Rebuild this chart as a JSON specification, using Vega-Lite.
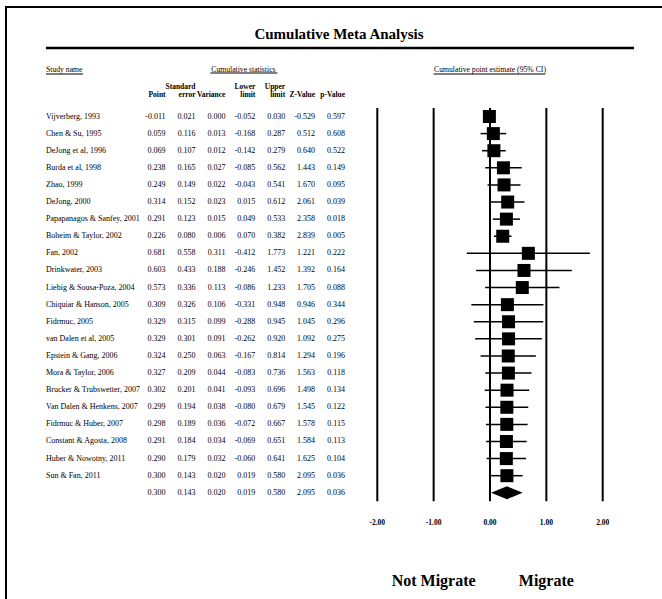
{
  "$schema": "https://vega.github.io/schema/vega-lite/v6.json",
  "width": 666,
  "height": 620,
  "autosize": {"type": "none"},
  "padding": {"left": 6, "top": 7, "right": 0, "bottom": 0},
  "background": "white",
  "config": {
    "view": {"stroke": "black", "strokeWidth": 2},
    "font": "Liberation Serif",
    "text": {"font": "Liberation Serif", "color": "black"},
    "locale": {"number": {"decimal": ".", "thousands": ",", "grouping": [3], "currency": ["$", ""], "minus": "-"}}
  },
  "datasets": {
    "rows": [
      {"row": 1, "kind": "study", "study": "Vijverberg, 1993", "point": -0.011, "se": 0.021, "variance": 0.000, "lower": -0.052, "upper": 0.030, "z": -0.529, "p": 0.597},
      {"row": 2, "kind": "study", "study": "Chen & Su, 1995", "point": 0.059, "se": 0.116, "variance": 0.013, "lower": -0.168, "upper": 0.287, "z": 0.512, "p": 0.608},
      {"row": 3, "kind": "study", "study": "DeJong et al, 1996", "point": 0.069, "se": 0.107, "variance": 0.012, "lower": -0.142, "upper": 0.279, "z": 0.640, "p": 0.522},
      {"row": 4, "kind": "study", "study": "Burda et al, 1998", "point": 0.238, "se": 0.165, "variance": 0.027, "lower": -0.085, "upper": 0.562, "z": 1.443, "p": 0.149},
      {"row": 5, "kind": "study", "study": "Zhao, 1999", "point": 0.249, "se": 0.149, "variance": 0.022, "lower": -0.043, "upper": 0.541, "z": 1.670, "p": 0.095},
      {"row": 6, "kind": "study", "study": "DeJong, 2000", "point": 0.314, "se": 0.152, "variance": 0.023, "lower": 0.015, "upper": 0.612, "z": 2.061, "p": 0.039},
      {"row": 7, "kind": "study", "study": "Papapanagos & Sanfey, 2001", "point": 0.291, "se": 0.123, "variance": 0.015, "lower": 0.049, "upper": 0.533, "z": 2.358, "p": 0.018},
      {"row": 8, "kind": "study", "study": "Boheim & Taylor, 2002", "point": 0.226, "se": 0.080, "variance": 0.006, "lower": 0.070, "upper": 0.382, "z": 2.839, "p": 0.005},
      {"row": 9, "kind": "study", "study": "Fan, 2002", "point": 0.681, "se": 0.558, "variance": 0.311, "lower": -0.412, "upper": 1.773, "z": 1.221, "p": 0.222},
      {"row": 10, "kind": "study", "study": "Drinkwater, 2003", "point": 0.603, "se": 0.433, "variance": 0.188, "lower": -0.246, "upper": 1.452, "z": 1.392, "p": 0.164},
      {"row": 11, "kind": "study", "study": "Liebig & Sousa-Poza, 2004", "point": 0.573, "se": 0.336, "variance": 0.113, "lower": -0.086, "upper": 1.233, "z": 1.705, "p": 0.088},
      {"row": 12, "kind": "study", "study": "Chiquiar & Hanson, 2005", "point": 0.309, "se": 0.326, "variance": 0.106, "lower": -0.331, "upper": 0.948, "z": 0.946, "p": 0.344},
      {"row": 13, "kind": "study", "study": "Fidrmuc, 2005", "point": 0.329, "se": 0.315, "variance": 0.099, "lower": -0.288, "upper": 0.945, "z": 1.045, "p": 0.296},
      {"row": 14, "kind": "study", "study": "van Dalen et al, 2005", "point": 0.329, "se": 0.301, "variance": 0.091, "lower": -0.262, "upper": 0.920, "z": 1.092, "p": 0.275},
      {"row": 15, "kind": "study", "study": "Epstein & Gang, 2006", "point": 0.324, "se": 0.250, "variance": 0.063, "lower": -0.167, "upper": 0.814, "z": 1.294, "p": 0.196},
      {"row": 16, "kind": "study", "study": "Mora & Taylor, 2006", "point": 0.327, "se": 0.209, "variance": 0.044, "lower": -0.083, "upper": 0.736, "z": 1.563, "p": 0.118},
      {"row": 17, "kind": "study", "study": "Brucker & Trubswetter, 2007", "point": 0.302, "se": 0.201, "variance": 0.041, "lower": -0.093, "upper": 0.696, "z": 1.498, "p": 0.134},
      {"row": 18, "kind": "study", "study": "Van Dalen & Henkens, 2007", "point": 0.299, "se": 0.194, "variance": 0.038, "lower": -0.080, "upper": 0.679, "z": 1.545, "p": 0.122},
      {"row": 19, "kind": "study", "study": "Fidrmuc & Huber, 2007", "point": 0.298, "se": 0.189, "variance": 0.036, "lower": -0.072, "upper": 0.667, "z": 1.578, "p": 0.115},
      {"row": 20, "kind": "study", "study": "Constant & Agosta, 2008", "point": 0.291, "se": 0.184, "variance": 0.034, "lower": -0.069, "upper": 0.651, "z": 1.584, "p": 0.113},
      {"row": 21, "kind": "study", "study": "Huber & Nowotny, 2011", "point": 0.290, "se": 0.179, "variance": 0.032, "lower": -0.060, "upper": 0.641, "z": 1.625, "p": 0.104},
      {"row": 22, "kind": "study", "study": "Sun & Fan, 2011", "point": 0.300, "se": 0.143, "variance": 0.020, "lower": 0.019, "upper": 0.580, "z": 2.095, "p": 0.036},
      {"row": 23, "kind": "summary", "study": "", "point": 0.300, "se": 0.143, "variance": 0.020, "lower": 0.019, "upper": 0.580, "z": 2.095, "p": 0.036}
    ],
    "headers": [
      {"col": "point", "line": "bottom", "text": "Point"},
      {"col": "se", "line": "top", "text": "Standard"},
      {"col": "se", "line": "bottom", "text": "error"},
      {"col": "variance", "line": "bottom", "text": "Variance"},
      {"col": "lower", "line": "top", "text": "Lower"},
      {"col": "lower", "line": "bottom", "text": "limit"},
      {"col": "upper", "line": "top", "text": "Upper"},
      {"col": "upper", "line": "bottom", "text": "limit"},
      {"col": "z", "line": "bottom", "text": "Z-Value"},
      {"col": "p", "line": "bottom", "text": "p-Value"}
    ],
    "ticks": [{"tick": -2}, {"tick": -1}, {"tick": 0}, {"tick": 1}, {"tick": 2}],
    "sides": [{"label": "Not Migrate", "side": -1}, {"label": "Migrate", "side": 1}]
  },
  "resolve": {"scale": {"x": "independent", "y": "independent"}},
  "layer": [
    {
      "data": {"name": "ticks"},
      "mark": {"type": "rule", "color": "black", "strokeWidth": 2},
      "encoding": {
        "x": {"field": "tick", "type": "quantitative", "axis": null, "scale": {"type": "linear", "domain": [-2, 2], "range": [371.3, 596.7], "nice": false, "zero": false}},
        "y": {"datum": 0.5, "type": "quantitative", "axis": null, "scale": {"type": "linear", "domain": [1, 23], "range": [109.5, 485.8], "nice": false, "zero": false}},
        "y2": {"datum": 23.5}
      }
    },
    {
      "data": {"name": "ticks"},
      "mark": {"type": "text", "fontSize": 7.5, "fontWeight": "bold", "baseline": "middle", "align": "center"},
      "encoding": {
        "x": {"field": "tick", "type": "quantitative", "axis": null, "scale": {"type": "linear", "domain": [-2, 2], "range": [371.3, 596.7], "nice": false, "zero": false}},
        "y": {"datum": 24.75, "type": "quantitative", "axis": null, "scale": {"type": "linear", "domain": [1, 23], "range": [109.5, 485.8], "nice": false, "zero": false}},
        "text": {"field": "tick", "type": "quantitative", "format": ".2f"}
      }
    },
    {
      "data": {"name": "rows"},
      "transform": [{"filter": "datum.kind == 'study'"}],
      "mark": {"type": "rule", "color": "black", "strokeWidth": 1.5},
      "encoding": {
        "x": {"field": "lower", "type": "quantitative", "axis": null, "scale": {"type": "linear", "domain": [-2, 2], "range": [371.3, 596.7], "nice": false, "zero": false}},
        "x2": {"field": "upper"},
        "y": {"field": "row", "type": "quantitative", "axis": null, "scale": {"type": "linear", "domain": [1, 23], "range": [109.5, 485.8], "nice": false, "zero": false}}
      }
    },
    {
      "data": {"name": "rows"},
      "transform": [{"filter": "datum.kind == 'study'"}],
      "mark": {"type": "point", "shape": "square", "filled": true, "size": 169, "color": "black", "opacity": 1},
      "encoding": {
        "x": {"field": "point", "type": "quantitative", "axis": null, "scale": {"type": "linear", "domain": [-2, 2], "range": [371.3, 596.7], "nice": false, "zero": false}},
        "y": {"field": "row", "type": "quantitative", "axis": null, "scale": {"type": "linear", "domain": [1, 23], "range": [109.5, 485.8], "nice": false, "zero": false}}
      }
    },
    {
      "data": {"name": "rows"},
      "transform": [{"filter": "datum.kind == 'summary'"}],
      "mark": {"type": "point", "shape": "M-1,0L0,-0.41L1,0L0,0.41Z", "filled": true, "size": 1000, "color": "black", "opacity": 1},
      "encoding": {
        "x": {"field": "point", "type": "quantitative", "axis": null, "scale": {"type": "linear", "domain": [-2, 2], "range": [371.3, 596.7], "nice": false, "zero": false}},
        "y": {"field": "row", "type": "quantitative", "axis": null, "scale": {"type": "linear", "domain": [1, 23], "range": [109.5, 485.8], "nice": false, "zero": false}}
      }
    },
    {
      "data": {"name": "rows"},
      "transform": [{"fold": ["point", "se", "variance", "lower", "upper", "z", "p"], "as": ["col", "val"]}],
      "mark": {"type": "text", "fontSize": 8, "align": "right", "baseline": "middle"},
      "encoding": {
        "x": {"field": "col", "type": "nominal", "axis": null, "scale": {"type": "point", "domain": ["study", "s1", "s2", "s3", "point", "se", "variance", "lower", "upper", "z", "p"], "range": [40, 339], "padding": 0}},
        "y": {"field": "row", "type": "quantitative", "axis": null, "scale": {"type": "linear", "domain": [1, 23], "range": [109.5, 485.8], "nice": false, "zero": false}},
        "text": {"field": "val", "type": "quantitative", "format": ".3f"}
      }
    },
    {
      "data": {"name": "rows"},
      "mark": {"type": "text", "fontSize": 8, "align": "left", "baseline": "middle"},
      "encoding": {
        "x": {"datum": "study", "type": "nominal", "axis": null, "scale": {"type": "point", "domain": ["study", "s1", "s2", "s3", "point", "se", "variance", "lower", "upper", "z", "p"], "range": [40, 339], "padding": 0}},
        "y": {"field": "row", "type": "quantitative", "axis": null, "scale": {"type": "linear", "domain": [1, 23], "range": [109.5, 485.8], "nice": false, "zero": false}},
        "text": {"field": "study", "type": "nominal"}
      }
    },
    {
      "data": {"name": "headers"},
      "mark": {"type": "text", "fontSize": 7.5, "fontWeight": "bold", "align": "right", "baseline": "middle"},
      "encoding": {
        "x": {"field": "col", "type": "nominal", "axis": null, "scale": {"type": "point", "domain": ["study", "s1", "s2", "s3", "point", "se", "variance", "lower", "upper", "z", "p"], "range": [40, 339], "padding": 0}},
        "y": {"field": "line", "type": "nominal", "axis": null, "scale": {"type": "point", "domain": ["group", "g1", "top", "bottom"], "range": [63, 88], "padding": 0}},
        "text": {"field": "text", "type": "nominal"}
      }
    },
    {
      "data": {"values": [{"label": "Study name"}]},
      "mark": {"type": "text", "fontSize": 7.7, "align": "left", "baseline": "middle"},
      "encoding": {
        "x": {"datum": "study", "type": "nominal", "axis": null, "scale": {"type": "point", "domain": ["study", "s1", "s2", "s3", "point", "se", "variance", "lower", "upper", "z", "p"], "range": [40, 339], "padding": 0}},
        "y": {"datum": "group", "type": "nominal", "axis": null, "scale": {"type": "point", "domain": ["group", "g1", "top", "bottom"], "range": [63, 88], "padding": 0}},
        "text": {"field": "label", "type": "nominal"}
      }
    },
    {
      "data": {"values": [{"label": "Cumulative statistics"}]},
      "mark": {"type": "text", "fontSize": 7.7, "align": "center", "baseline": "middle", "dx": 18},
      "encoding": {
        "x": {"datum": "variance", "type": "nominal", "axis": null, "scale": {"type": "point", "domain": ["study", "s1", "s2", "s3", "point", "se", "variance", "lower", "upper", "z", "p"], "range": [40, 339], "padding": 0}},
        "y": {"datum": "group", "type": "nominal", "axis": null, "scale": {"type": "point", "domain": ["group", "g1", "top", "bottom"], "range": [63, 88], "padding": 0}},
        "text": {"field": "label", "type": "nominal"}
      }
    },
    {
      "data": {"values": [{"label": "Cumulative point estimate (95% CI)"}]},
      "mark": {"type": "text", "fontSize": 7.7, "align": "center", "baseline": "middle"},
      "encoding": {
        "x": {"datum": 0, "type": "quantitative", "axis": null, "scale": {"type": "linear", "domain": [-2, 2], "range": [371.3, 596.7], "nice": false, "zero": false}},
        "y": {"datum": "group", "type": "nominal", "axis": null, "scale": {"type": "point", "domain": ["group", "g1", "top", "bottom"], "range": [63, 88], "padding": 0}},
        "text": {"field": "label", "type": "nominal"}
      }
    },
    {
      "data": {"values": [{"label": "Study name"}]},
      "mark": {"type": "rule", "color": "black", "strokeWidth": 1, "x2Offset": 37, "yOffset": 4},
      "encoding": {
        "x": {"datum": "study", "type": "nominal", "axis": null, "scale": {"type": "point", "domain": ["study", "s1", "s2", "s3", "point", "se", "variance", "lower", "upper", "z", "p"], "range": [40, 339], "padding": 0}},
        "x2": {"datum": "study"},
        "y": {"datum": "group", "type": "nominal", "axis": null, "scale": {"type": "point", "domain": ["group", "g1", "top", "bottom"], "range": [63, 88], "padding": 0}}
      }
    },
    {
      "data": {"values": [{"label": "Cumulative statistics"}]},
      "mark": {"type": "rule", "color": "black", "strokeWidth": 1, "xOffset": -15, "x2Offset": 22, "yOffset": 3},
      "encoding": {
        "x": {"datum": "variance", "type": "nominal", "axis": null, "scale": {"type": "point", "domain": ["study", "s1", "s2", "s3", "point", "se", "variance", "lower", "upper", "z", "p"], "range": [40, 339], "padding": 0}},
        "x2": {"datum": "lower"},
        "y": {"datum": "group", "type": "nominal", "axis": null, "scale": {"type": "point", "domain": ["group", "g1", "top", "bottom"], "range": [63, 88], "padding": 0}}
      }
    },
    {
      "data": {"values": [{"label": "Cumulative point estimate (95% CI)"}]},
      "mark": {"type": "rule", "color": "black", "strokeWidth": 1, "yOffset": 4},
      "encoding": {
        "x": {"datum": -1, "type": "quantitative", "axis": null, "scale": {"type": "linear", "domain": [-2, 2], "range": [371.3, 596.7], "nice": false, "zero": false}},
        "x2": {"datum": 0.98},
        "y": {"datum": "group", "type": "nominal", "axis": null, "scale": {"type": "point", "domain": ["group", "g1", "top", "bottom"], "range": [63, 88], "padding": 0}}
      }
    },
    {
      "data": {"values": [{"label": "Cumulative Meta Analysis"}]},
      "mark": {"type": "text", "fontSize": 15, "fontWeight": "bold", "align": "center", "baseline": "middle"},
      "encoding": {
        "y": {"datum": -3.8, "type": "quantitative", "axis": null, "scale": {"type": "linear", "domain": [1, 23], "range": [109.5, 485.8], "nice": false, "zero": false}},
        "text": {"field": "label", "type": "nominal"}
      }
    },
    {
      "data": {"values": [{"label": "Cumulative Meta Analysis"}]},
      "mark": {"type": "rule", "color": "black", "strokeWidth": 2.5},
      "encoding": {
        "x": {"datum": -7.88, "type": "quantitative", "axis": null, "scale": {"type": "linear", "domain": [-2, 2], "range": [371.3, 596.7], "nice": false, "zero": false}},
        "x2": {"datum": 2.555},
        "y": {"datum": -3, "type": "quantitative", "axis": null, "scale": {"type": "linear", "domain": [1, 23], "range": [109.5, 485.8], "nice": false, "zero": false}}
      }
    },
    {
      "data": {"name": "sides"},
      "mark": {"type": "text", "fontSize": 16, "fontWeight": "bold", "align": "center", "baseline": "middle"},
      "encoding": {
        "x": {"field": "side", "type": "quantitative", "axis": null, "scale": {"type": "linear", "domain": [-2, 2], "range": [371.3, 596.7], "nice": false, "zero": false}},
        "y": {"datum": 28.15, "type": "quantitative", "axis": null, "scale": {"type": "linear", "domain": [1, 23], "range": [109.5, 485.8], "nice": false, "zero": false}},
        "text": {"field": "label", "type": "nominal"}
      }
    }
  ]
}
